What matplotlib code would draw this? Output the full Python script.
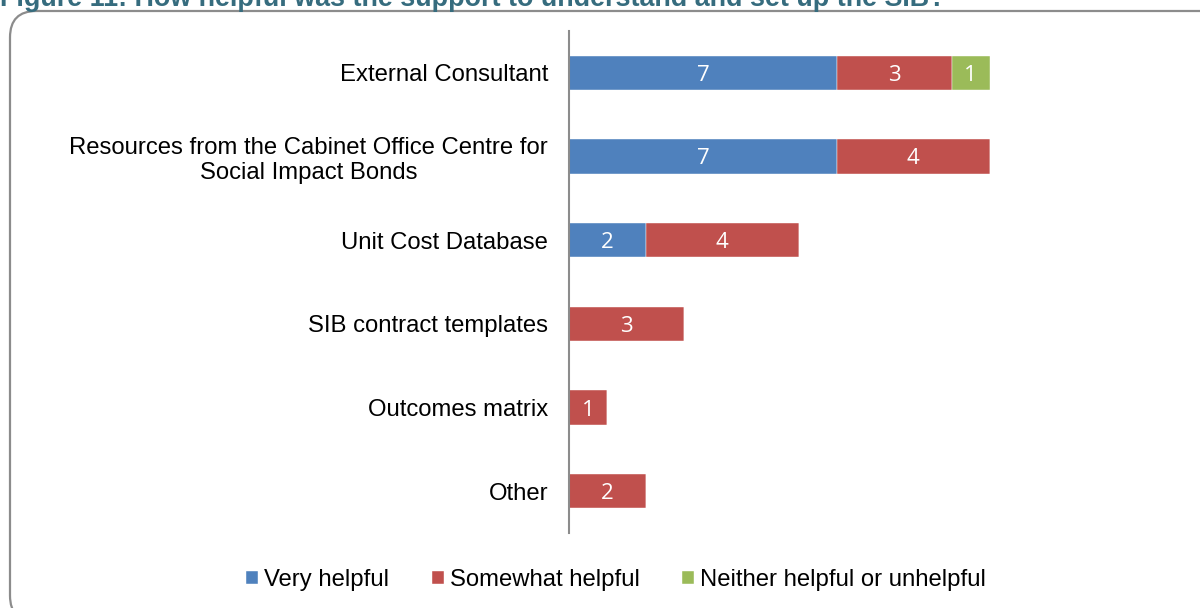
import matplotlib
matplotlib.use("Agg")
import matplotlib.pyplot as plt
from matplotlib.patches import FancyBboxPatch
import numpy as np

categories = ["External Consultant",
              "Resources from the Cabinet Office Centre for\nSocial Impact Bonds",
              "Unit Cost Database",
              "SIB contract templates",
              "Outcomes matrix",
              "Other"]
very_helpful = [7, 7, 2, 0, 0, 0]
somewhat_helpful = [3, 4, 4, 3, 1, 2]
neither = [1, 0, 0, 0, 0, 0]
series_names = ["Very helpful", "Somewhat helpful", "Neither helpful or unhelpful"]
colors = ["#4F81BD", "#C0504D", "#9BBB59"]
title = "Figure 11: How helpful was the support to understand and set up the SIB?"

plt.rcParams['font.family'] = ['Liberation Sans', 'DejaVu Sans']

fig = plt.figure(figsize=(12, 6.08), dpi=100)

# rounded border
border = FancyBboxPatch((10/1200, -14/608), 1.2, 1 - 11/608 + 14/608,
                        boxstyle="round,pad=0,rounding_size=0.022",
                        transform=fig.transFigure, fill=False,
                        edgecolor="#8C8C8C", linewidth=1.6, mutation_aspect=1200/608)
fig.patches.append(border)

fig.text(0.0, 1 - 6/608, title, ha="left", va="baseline",
         fontsize=19.4, fontweight="bold", color="#366C7E")

ax = fig.add_axes([569/1200, 1 - 533/608, (1185 - 569)/1200, (533 - 31)/608])
y = np.arange(len(categories))
left = np.zeros(len(categories))
for vals, name, c in zip([very_helpful, somewhat_helpful, neither], series_names, colors):
    vals = np.array(vals, dtype=float)
    ax.barh(y, vals, left=left, height=0.41, color=c, label=name,
            edgecolor="white", linewidth=0.3)
    for yi, (l, v) in enumerate(zip(left, vals)):
        if v > 0:
            ax.text(l + v / 2, yi, f"{int(v)}", ha="center", va="center_baseline",
                    color="white", fontsize=16, family=["Open Sans", "DejaVu Sans"])
    left += vals

ax.set_xlim(0, 16.1)
ax.set_ylim(len(categories) - 0.5, -0.5)
ax.set_yticks(y)
ax.set_yticklabels(categories, fontsize=17.2, linespacing=1.15)
for lbl in ax.get_yticklabels():
    lbl.set_horizontalalignment("right")
    lbl.set_multialignment("center")
ax.tick_params(axis="y", length=0, pad=15)
ax.set_xticks([])
for s in ["top", "right", "bottom"]:
    ax.spines[s].set_visible(False)
ax.spines["left"].set_color("#8C8C8C")
ax.spines["left"].set_linewidth(1.5)
ax.patch.set_alpha(0)

fig.legend(loc="center", bbox_to_anchor=(616/1200, 1 - 580/608), ncol=3,
           frameon=False, fontsize=17.2, handlelength=0.5, handleheight=0.5,
           handletextpad=0.25, columnspacing=1.8)

fig.savefig("out.png", dpi=100)
